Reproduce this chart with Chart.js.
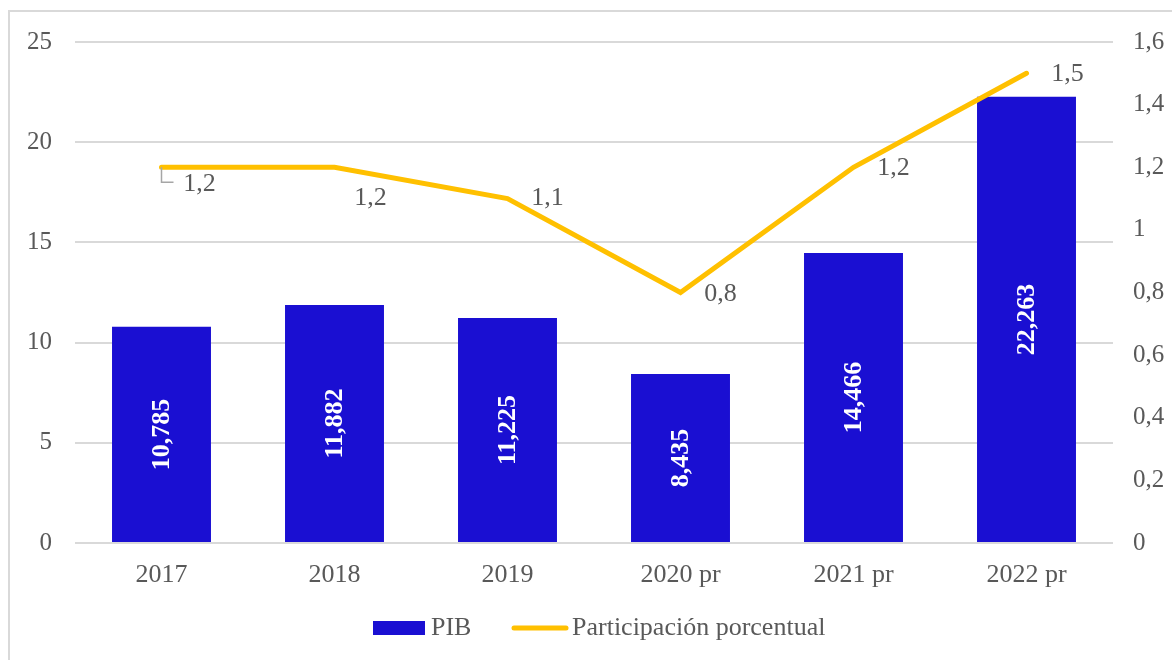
<!DOCTYPE html>
<html>
<head>
<meta charset="utf-8">
<script src="https://cdn.jsdelivr.net/npm/chart.js@4"></script>
<style>
html,body{margin:0;padding:0;background:#fff;}
#wrap{position:relative;width:1172px;height:660px;}
</style>
</head>
<body>
<div id="wrap"><canvas id="c" width="1172" height="660"></canvas></div>
<script>
const categories = ['2017', '2018', '2019', '2020 pr', '2021 pr', '2022 pr'];
const pibValues = [10.785, 11.882, 11.225, 8.435, 14.466, 22.263];
const participacion = [1.2, 1.2, 1.1, 0.8, 1.2, 1.5];
const leftTicks = [0, 5, 10, 15, 20, 25];
const rightTicks = [0, 0.2, 0.4, 0.6, 0.8, 1, 1.2, 1.4, 1.6];
const seriesNames = ['PIB', 'Participación porcentual'];

const FONT = '"Liberation Serif", "Times New Roman", serif';
const TXT = '#595959';
const BAR = '#1a0fd2';
const LINE = '#ffc000';

const fmtComma = (v, d) => v.toFixed(d).replace('.', ',');
const fmtTick = v => {
  const r = Math.round(v * 10) / 10;
  return Number.isInteger(r) ? String(r) : String(r).replace('.', ',');
};

// label offsets for line labels (relative to point)
const lineLabelOffsets = [[38, 17], [36, 31], [40, 0], [40, 2], [40, 1], [41, 1]];

const decorPlugin = {
  id: 'decor',
  beforeDraw(chart) {
    const ctx = chart.ctx;
    ctx.save();
    ctx.fillStyle = '#fff';
    ctx.fillRect(0, 0, chart.width, chart.height);
    ctx.strokeStyle = '#d9d9d9';
    ctx.lineWidth = 2;
    ctx.strokeRect(9, 11, chart.width + 20, chart.height + 20);
    ctx.restore();
  },
  afterDatasetsDraw(chart) {
    const ctx = chart.ctx;
    ctx.save();
    // bar labels
    const barMeta = chart.getDatasetMeta(1);
    ctx.font = 'bold 26px ' + FONT;
    ctx.fillStyle = '#ffffff';
    ctx.textAlign = 'center';
    ctx.textBaseline = 'middle';
    barMeta.data.forEach((bar, i) => {
      const cy = (bar.y + bar.base) / 2;
      ctx.save();
      ctx.translate(bar.x, cy);
      ctx.rotate(-Math.PI / 2);
      ctx.fillText(fmtComma(pibValues[i], 3), 0, 1);
      ctx.restore();
    });
    // line labels
    const lineMeta = chart.getDatasetMeta(0);
    ctx.font = '26px ' + FONT;
    ctx.fillStyle = TXT;
    lineMeta.data.forEach((pt, i) => {
      const [dx, dy] = lineLabelOffsets[i];
      ctx.fillText(fmtComma(participacion[i], 1), pt.x + dx, pt.y + dy);
    });
    // leader line for first label
    const p0 = lineMeta.data[0];
    ctx.strokeStyle = '#a6a6a6';
    ctx.lineWidth = 1.5;
    ctx.beginPath();
    ctx.moveTo(p0.x, p0.y);
    ctx.lineTo(p0.x, p0.y + 15);
    ctx.lineTo(p0.x + 12, p0.y + 15);
    ctx.stroke();
    ctx.restore();
  },
  afterDraw(chart) {
    // legend
    const ctx = chart.ctx;
    ctx.save();
    ctx.font = '26px ' + FONT;
    ctx.textBaseline = 'middle';
    ctx.textAlign = 'left';
    const y = 628;
    const boxW = 52, gap = 6;
    let x = 373;
    ctx.fillStyle = BAR;
    ctx.fillRect(x, y - 7, boxW, 14);
    x += boxW + gap;
    ctx.fillStyle = TXT;
    ctx.fillText(seriesNames[0], x, y);
    x = 512;
    ctx.strokeStyle = LINE;
    ctx.lineWidth = 5;
    ctx.lineCap = 'round';
    ctx.beginPath();
    ctx.moveTo(x + 2, y);
    ctx.lineTo(x + 54, y);
    ctx.stroke();
    ctx.fillText(seriesNames[1], 572, y);
    ctx.restore();
  }
};

new Chart(document.getElementById('c'), {
  data: {
    labels: categories,
    datasets: [
      {
        type: 'line',
        label: seriesNames[1],
        data: participacion,
        yAxisID: 'y1',
        borderColor: LINE,
        backgroundColor: LINE,
        borderWidth: 5,
        pointRadius: 0,
        tension: 0,
        borderCapStyle: 'round',
        borderJoinStyle: 'miter',
        order: 0
      },
      {
        type: 'bar',
        label: seriesNames[0],
        data: pibValues,
        yAxisID: 'y',
        backgroundColor: BAR,
        borderWidth: 0,
        categoryPercentage: 1,
        barPercentage: 0.572,
        order: 1
      }
    ]
  },
  options: {
    responsive: false,
    animation: false,
    events: [],
    layout: { padding: { top: 42, left: 0, right: 0, bottom: 0 } },
    plugins: { legend: { display: false }, tooltip: { enabled: false } },
    scales: {
      x: {
        grid: { display: false, drawTicks: false },
        border: { display: false },
        ticks: { color: TXT, font: { family: FONT, size: 26 }, padding: 17 },
        afterFit(s) { s.height = 117; }
      },
      y: {
        position: 'left',
        min: 0, max: 25,
        afterBuildTicks(s) { s.ticks = leftTicks.map(v => ({ value: v })); },
        grid: { color: '#d9d9d9', lineWidth: 2, drawTicks: false },
        border: { display: false },
        ticks: { color: TXT, font: { family: FONT, size: 25 }, padding: 23, callback: v => String(v) },
        afterFit(s) { s.width = 75; }
      },
      y1: {
        position: 'right',
        min: 0, max: 1.6,
        afterBuildTicks(s) { s.ticks = rightTicks.map(v => ({ value: v })); },
        grid: { display: false, drawTicks: false },
        border: { display: false },
        ticks: { color: TXT, font: { family: FONT, size: 25 }, padding: 20, callback: v => fmtTick(v) },
        afterFit(s) { s.width = 59; }
      }
    }
  },
  plugins: [decorPlugin]
});
</script>
</body>
</html>
